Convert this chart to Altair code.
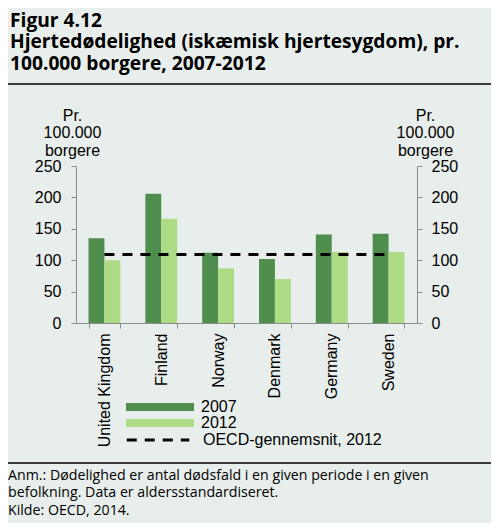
import altair as alt
import pandas as pd

# ---- data ----
COUNTRIES = ["United Kingdom", "Finland", "Norway", "Denmark", "Germany", "Sweden"]
VALUES_2007 = [135, 206, 112, 102, 141, 142]
VALUES_2012 = [100, 166, 87, 70, 113, 113]
OECD_2012 = [109, 109, 109, 109, 109, 109]
YEARS = ["2007", "2012"]
Y_TICKS = [0, 50, 100, 150, 200, 250]
OECD_LABEL = "OECD-gennemsnit, 2012"
Y_TITLE = ["Pr.", "100.000", "borgere"]
TITLE_LINES = ["Figur 4.12",
               "Hjertedødelighed (iskæmisk hjertesygdom), pr.",
               "100.000 borgere, 2007-2012"]
FOOTER_LINES = ["Anm.: Dødelighed er antal dødsfald i en given periode i en given",
                "befolkning. Data er aldersstandardiseret.",
                "Kilde: OECD, 2014."]

# ---- styles ----
BG = "#e8eeeb"
DARK = "#4f8e4c"
LIGHT = "#aedb86"
GREY = "#8c8c8c"
AXIS_FONT = "Liberation Sans"
TEXT_FONT = "Open Sans"

bars_df = pd.DataFrame({
    "country": COUNTRIES * 2,
    "year": [YEARS[0]] * len(COUNTRIES) + [YEARS[1]] * len(COUNTRIES),
    "value": VALUES_2007 + VALUES_2012,
})
line_df = pd.DataFrame({
    "country": COUNTRIES,
    "value": OECD_2012,
    "label": [OECD_LABEL] * len(COUNTRIES),
})

x_axis = alt.Axis(title=None, labelAngle=270, labelFont=AXIS_FONT, labelFontSize=16,
                  labelColor="black", tickBand="extent", tickSize=5, tickColor=GREY,
                  domainColor=GREY, labelPadding=5, grid=False)
x_scale = alt.Scale(paddingInner=0.44, paddingOuter=0.22)
y_scale = alt.Scale(domain=[0, 250], nice=False)


def y_axis(orient, title_x, pad):
    return alt.Axis(orient=orient, values=Y_TICKS, title=Y_TITLE, titleAngle=0,
                    titleAlign="center", titleBaseline="alphabetic", titleX=title_x,
                    titleY=-46, titleFont=AXIS_FONT, titleFontSize=16,
                    titleFontWeight="normal", titleLineHeight=17.5, titleColor="black",
                    labelFont=AXIS_FONT, labelFontSize=16, labelColor="black",
                    tickSize=5, tickColor=GREY, domainColor=GREY, labelPadding=pad,
                    grid=False)


bars = alt.Chart(bars_df).mark_bar().encode(
    x=alt.X("country:N", sort=COUNTRIES, axis=x_axis, scale=x_scale),
    xOffset=alt.XOffset("year:N", sort=YEARS, scale=alt.Scale(paddingInner=0, paddingOuter=0)),
    y=alt.Y("value:Q", scale=y_scale, axis=y_axis("left", -4, 10)),
    color=alt.Color("year:N", scale=alt.Scale(domain=YEARS, range=[DARK, LIGHT]),
                    legend=alt.Legend(title=None, orient="none", legendX=50, legendY=233,
                                      symbolType="M-1,-0.12H1V0.12H-1Z", symbolSize=4624,
                                      symbolStrokeWidth=0, clipHeight=16, rowPadding=0,
                                      labelFont=AXIS_FONT, labelFontSize=16,
                                      labelColor="black", labelOffset=7, padding=0)),
)

line = alt.Chart(line_df).mark_line(color="black", strokeWidth=3).encode(
    x=alt.X("country:N", sort=COUNTRIES, axis=x_axis, scale=x_scale),
    y=alt.Y("value:Q", scale=y_scale, axis=y_axis("right", 8, 9)),
    strokeDash=alt.StrokeDash("label:N", scale=alt.Scale(domain=[OECD_LABEL], range=[[10, 8]]),
                              legend=alt.Legend(title=None, orient="none", legendX=49, legendY=266,
                                                symbolType="stroke", symbolSize=3900,
                                                symbolStrokeColor="black", symbolStrokeWidth=3,
                                                clipHeight=16, labelFont=AXIS_FONT,
                                                labelFontSize=16, labelColor="black",
                                                labelOffset=12, labelLimit=400, padding=0)),
)


def text_layer(txt, x, y, size, weight="normal"):
    return alt.Chart(alt.Data(values=[{}])).mark_text(
        text=txt, font=TEXT_FONT, fontSize=size, fontWeight=weight, align="left",
        baseline="alphabetic", color="black"
    ).encode(x=alt.value(x), y=alt.value(y))


def hline(y):
    return alt.Chart(alt.Data(values=[{}])).mark_rule(color="black", strokeWidth=1.5).encode(
        x=alt.value(-68), x2=alt.value(415), y=alt.value(y))


title_layers = [text_layer(t, -66, yy, 19.2, "bold")
                for t, yy in zip(TITLE_LINES, [-139.5, -118, -96.5])]
footer_layers = [text_layer(t, -68, yy, 14.2)
                 for t, yy in zip(FOOTER_LINES, [314, 331.3, 349])]

chart = alt.layer(
    bars, line, hline(-82), hline(297), *title_layers, *footer_layers
).resolve_scale(
    y="independent"
).properties(
    width=341, height=157,
    autosize=alt.AutoSizeParams(type="none"),
    padding={"left": 68, "top": 158, "right": 74, "bottom": 200},
    background=BG,
).configure_view(strokeWidth=0)

chart.save("out.html", embed_options={"renderer": "svg", "actions": False})
